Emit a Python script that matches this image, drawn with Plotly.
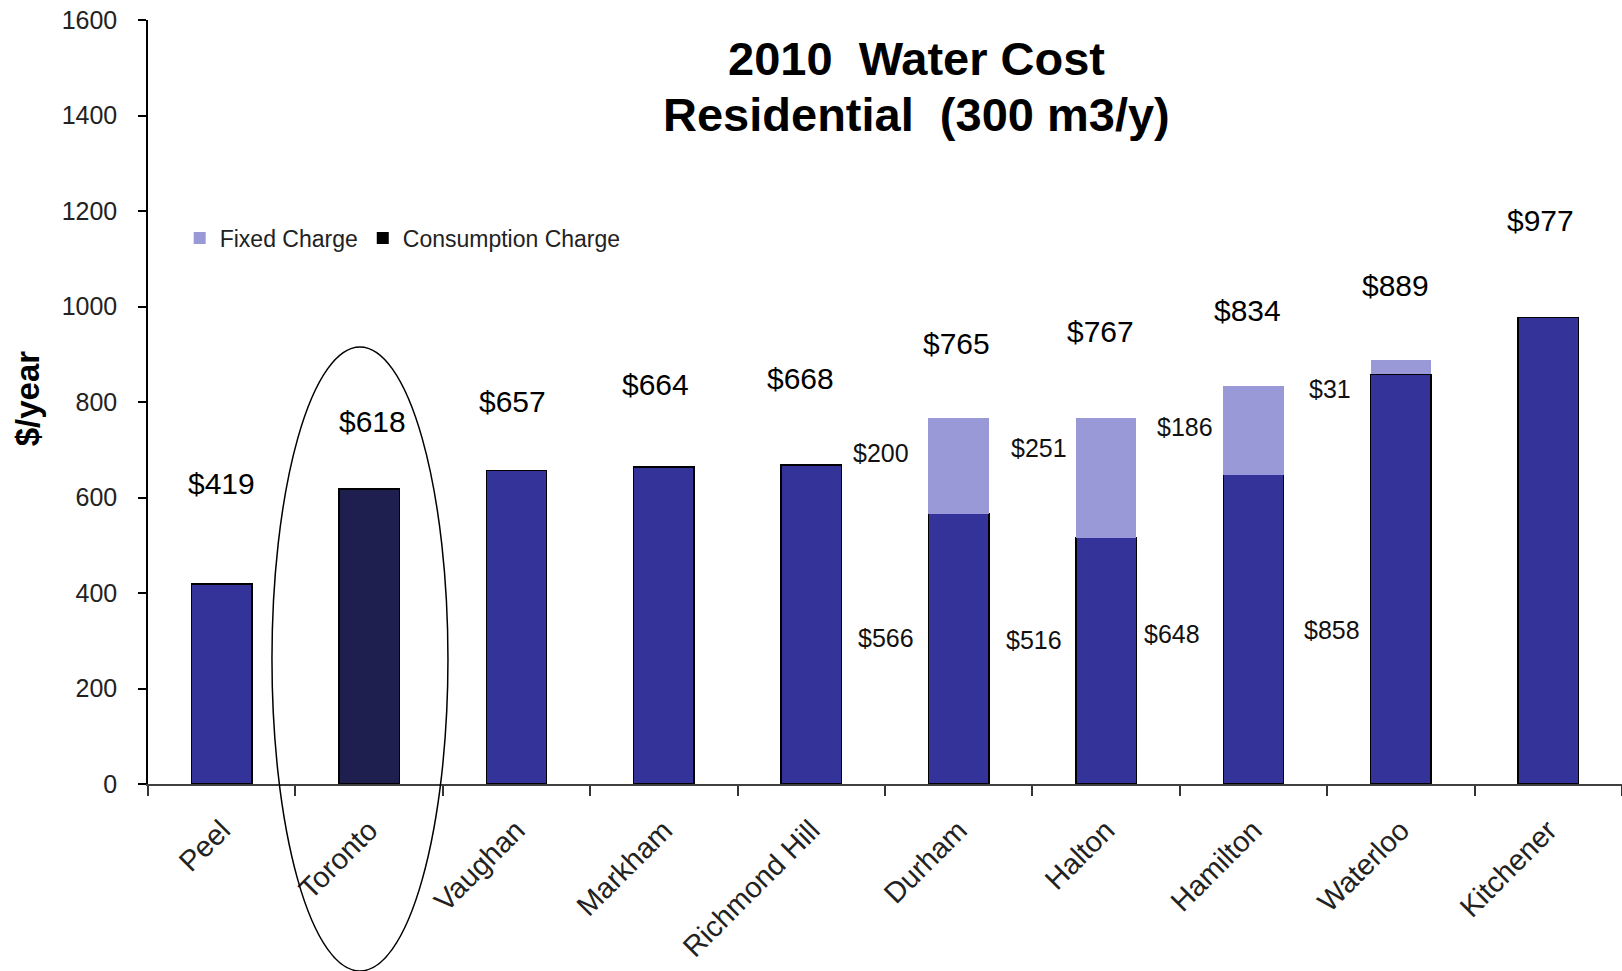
import plotly.graph_objects as go

# ---- data ----
regions = ["Peel", "Toronto", "Vaughan", "Markham", "Richmond Hill",
           "Durham", "Halton", "Hamilton", "Waterloo", "Kitchener"]
consumption = [419, 618, 657, 664, 668, 566, 516, 648, 858, 977]
fixed = [None, None, None, None, None, 200, 251, 186, 31, None]
totals = [419, 618, 657, 664, 668, 765, 767, 834, 889, 977]
y_ticks = [0, 200, 400, 600, 800, 1000, 1200, 1400, 1600]

# label placement (layout, data units)
total_label_y = [630, 760, 801, 836, 849, 922, 948, 992, 1043, 1180]
total_label_dx = [0, 0.02, -0.03, -0.06, -0.07, -0.015, -0.035, -0.04, -0.035, -0.05]
seg_fixed_pos = {5: (-0.53, 693), 6: (-0.456, 704), 7: (-0.467, 747), 8: (-0.484, 827)}
seg_cons_pos = {5: (-0.495, 305), 6: (-0.49, 301), 7: (-0.55, 314), 8: (-0.47, 323)}

CONS = "#333399"
TORONTO = "#1F1F4F"
FIXED = "#9999D8"
FONT = "Liberation Sans, Arial, sans-serif"

cons_colors = [TORONTO if r == "Toronto" else CONS for r in regions]

fig = go.Figure()
fig.add_trace(go.Bar(x=regions, y=consumption, name="Consumption Charge",
                     marker=dict(color=cons_colors, line=dict(color="#000000", width=1.5)),
                     width=0.41, showlegend=False, hoverinfo="x+y"))
fig.add_trace(go.Bar(x=regions, y=fixed, name="Fixed Charge",
                     marker=dict(color=FIXED, line=dict(width=0)),
                     width=0.41, showlegend=False, hoverinfo="x+y"))
# legend entries
fig.add_trace(go.Bar(x=[None], y=[None], name="Fixed Charge",
                     marker=dict(color=FIXED, line=dict(width=0))))
fig.add_trace(go.Bar(x=[None], y=[None], name="Consumption Charge",
                     marker=dict(color="#000000", line=dict(width=0))))

annotations = []
for i, (t, ly, dx) in enumerate(zip(totals, total_label_y, total_label_dx)):
    annotations.append(dict(x=i + dx, y=ly, xref="x", yref="y", text=f"${t}",
                            showarrow=False, font=dict(family=FONT, size=30, color="#000000"),
                            xanchor="center", yanchor="middle"))
for i, (dx, ly) in seg_fixed_pos.items():
    annotations.append(dict(x=i + dx, y=ly, xref="x", yref="y", text=f"${fixed[i]}",
                            showarrow=False, font=dict(family=FONT, size=25, color="#111111"),
                            xanchor="center", yanchor="middle"))
for i, (dx, ly) in seg_cons_pos.items():
    annotations.append(dict(x=i + dx, y=ly, xref="x", yref="y", text=f"${consumption[i]}",
                            showarrow=False, font=dict(family=FONT, size=25, color="#111111"),
                            xanchor="center", yanchor="middle"))
# title
annotations.append(dict(x=0.5217, y=0.9492, xref="paper", yref="paper",
                        text="<b>2010\u00a0\u00a0Water Cost</b>", showarrow=False,
                        font=dict(family=FONT, size=47, color="#000000"),
                        xanchor="center", yanchor="middle"))
annotations.append(dict(x=0.5217, y=0.8758, xref="paper", yref="paper",
                        text="<b>Residential\u00a0\u00a0(300 m3/y)</b>", showarrow=False,
                        font=dict(family=FONT, size=47, color="#000000"),
                        xanchor="center", yanchor="middle"))
# y axis title
annotations.append(dict(x=-0.082, y=0.505, xref="paper", yref="paper",
                        text="<b>$/year</b>", showarrow=False, textangle=-90,
                        font=dict(family=FONT, size=33, color="#000000"),
                        xanchor="center", yanchor="middle"))

fig.update_layout(
    width=1622, height=971,
    margin=dict(l=148, r=0, t=20, b=187),
    paper_bgcolor="#FFFFFF", plot_bgcolor="#FFFFFF",
    barmode="stack",
    font=dict(family=FONT, color="#222222"),
    annotations=annotations,
    legend=dict(orientation="h", x=0.0215, y=0.7147, xanchor="left", yanchor="middle",
                font=dict(family=FONT, size=23, color="#222222"),
                bgcolor="rgba(0,0,0,0)", traceorder="normal"),
    shapes=[dict(type="circle", xref="paper", yref="paper",
                 x0=0.0841, x1=0.2035, y0=-0.2448, y1=0.572,
                 line=dict(color="#000000", width=1.5), fillcolor="rgba(0,0,0,0)",
                 layer="above")],
)
fig.update_xaxes(type="category", categoryorder="array", categoryarray=regions,
                 tickangle=-45, tickson="boundaries", ticks="outside", ticklen=10,
                 tickwidth=1.5, tickcolor="#333333",
                 showline=True, linecolor="#404040", linewidth=1.5,
                 showgrid=False, zeroline=False, ticklabelstandoff=16,
                 tickfont=dict(family=FONT, size=29, color="#222222"),
                 range=[-0.5, 9.5])
fig.update_yaxes(range=[0, 1600], tickvals=y_ticks, ticktext=[str(v) for v in y_ticks],
                 ticks="outside", ticklen=8, tickwidth=1.5, tickcolor="#000000",
                 showline=True, linecolor="#000000", linewidth=1.5,
                 showgrid=False, zeroline=False, ticklabelstandoff=16,
                 tickfont=dict(family=FONT, size=25, color="#222222"))

fig.write_html("out.html")
